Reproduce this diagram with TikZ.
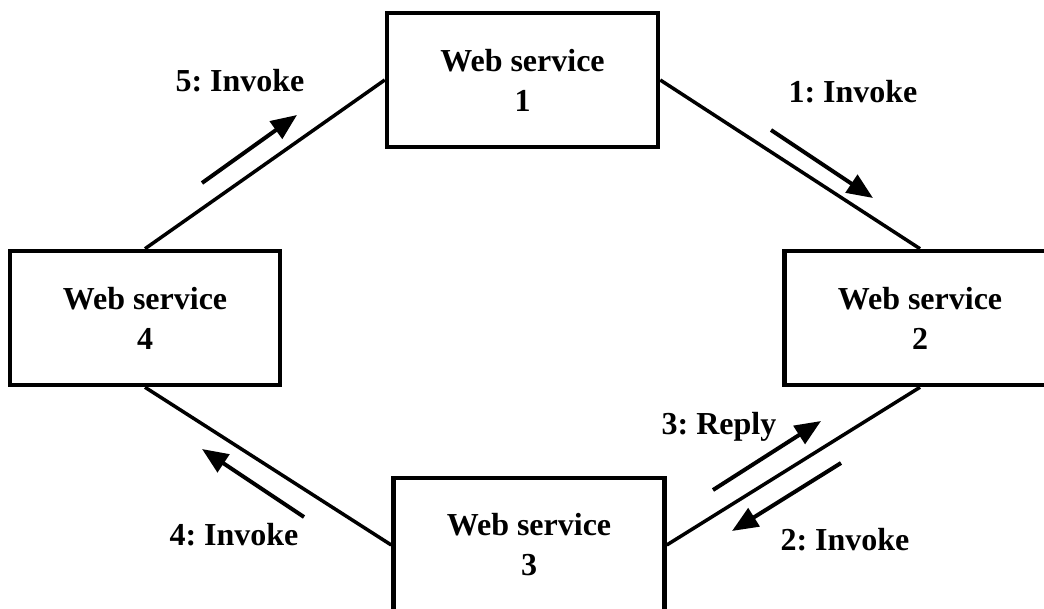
\documentclass[tikz,border=0pt]{standalone}
\usepackage{fontspec}
\setmainfont{Liberation Serif}
\usetikzlibrary{arrows.meta}
\frenchspacing
\begin{document}
\begin{tikzpicture}[x=1pt,y=-1pt,
  wsbox/.style={draw=black, line width=4.5pt, minimum width=271pt, minimum height=134pt, inner sep=0pt, align=center, font=\fontsize{32}{40}\selectfont\bfseries},
  link/.style={line width=3.5pt},
  flow/.style={line width=4pt, -{Triangle[length=26pt,width=21pt]}},
  lbl/.style={anchor=base, inner sep=0pt, font=\fontsize{32}{40}\selectfont\bfseries}]
\clip (0,0) rectangle (1044,609);
\fill[white] (0,0) rectangle (1044,609);
\node[wsbox] (ws1) at (522.5,80) {Web service\\1};
\node[wsbox] (ws2) at (920,318) {Web service\\2};
\node[wsbox] (ws3) at (529,545) {Web service\\3};
\node[wsbox, minimum width=270pt] (ws4) at (145,318) {Web service\\4};
\draw[link] (ws1.west) -- (ws4.north);
\draw[link] (ws1.east) -- (ws2.north);
\draw[link] (ws2.south) -- (ws3.east);
\draw[link] (ws4.south) -- (ws3.west);
\coordinate (a5s) at (202,183); \coordinate (a5e) at (297,115);
\coordinate (a1s) at (771,130); \coordinate (a1e) at (873,198);
\coordinate (a3s) at (713,490); \coordinate (a3e) at (821,421);
\coordinate (a2s) at (841,463); \coordinate (a2e) at (732,531);
\coordinate (a4s) at (304,517); \coordinate (a4e) at (202,449);
\draw[flow] (a5s) -- (a5e);
\draw[flow] (a1s) -- (a1e);
\draw[flow] (a3s) -- (a3e);
\draw[flow] (a2s) -- (a2e);
\draw[flow] (a4s) -- (a4e);
\node[lbl] (l5) at (240,92) {5: Invoke};
\node[lbl] (l1) at (853,103) {1: Invoke};
\node[lbl] (l3) at (719,434) {3: Reply};
\node[lbl] (l2) at (845,550) {2: Invoke};
\node[lbl] (l4) at (234,545) {4: Invoke};
\end{tikzpicture}
\end{document}
